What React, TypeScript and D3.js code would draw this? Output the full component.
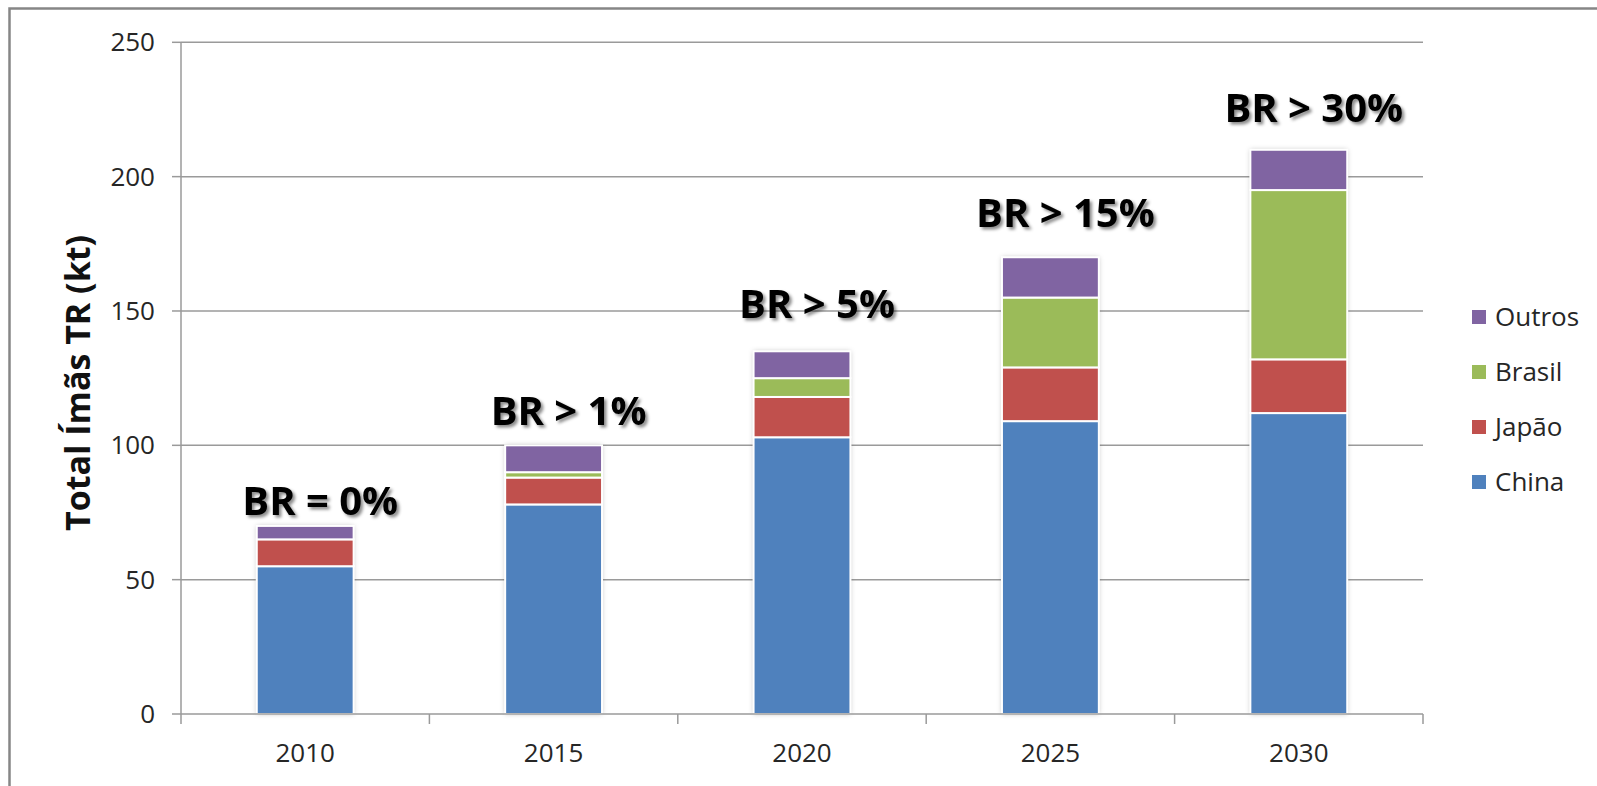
import React, { useEffect, useRef } from "react";
import * as d3 from "d3";

const years = ["2010", "2015", "2020", "2025", "2030"];
const china = [55, 78, 103, 109, 112];
const japao = [10, 10, 15, 20, 20];
const brasil = [0, 2, 7, 26, 63];
const outros = [5, 10, 10, 15, 15];
const seriesNames = ["China", "Japão", "Brasil", "Outros"];
const seriesColors = ["#4F81BD", "#C0504D", "#9BBB59", "#8064A2"];
const yTicks = [0, 50, 100, 150, 200, 250];
const annotations = ["BR = 0%", "BR > 1%", "BR > 5%", "BR > 15%", "BR > 30%"];
// baseline of each annotation, in kt
const annotationLevels = [74, 107.5, 147.3, 181.4, 220.4];

const App = () => {
  const svgRef = useRef<SVGSVGElement>(null);

  useEffect(() => {
    drawChart();
  }, []);

  const drawChart = () => {
    const svg = d3.select(svgRef.current);
    svg.selectAll("*").remove();

    const W = 1597;
    const H = 786;
    const font = "'Open Sans', 'Noto Sans', sans-serif";

    const defs = svg.append("defs");
    defs
      .append("filter")
      .attr("id", "barShadow")
      .attr("x", "-20%")
      .attr("y", "-20%")
      .attr("width", "140%")
      .attr("height", "140%")
      .append("feDropShadow")
      .attr("dx", 0)
      .attr("dy", 0)
      .attr("stdDeviation", 2.5)
      .attr("flood-color", "#000")
      .attr("flood-opacity", 0.25);
    defs
      .append("filter")
      .attr("id", "textShadow")
      .attr("x", "-10%")
      .attr("y", "-30%")
      .attr("width", "120%")
      .attr("height", "160%")
      .append("feDropShadow")
      .attr("dx", 2.5)
      .attr("dy", 2.5)
      .attr("stdDeviation", 1.8)
      .attr("flood-color", "#000")
      .attr("flood-opacity", 0.45);

    svg.append("rect").attr("width", W).attr("height", H).attr("fill", "#fff");

    // outer chart frame
    svg
      .append("rect")
      .attr("x", 9.5)
      .attr("y", 8.5)
      .attr("width", W + 20)
      .attr("height", H + 20)
      .attr("fill", "none")
      .attr("stroke", "#868686")
      .attr("stroke-width", 2.5);

    const x = d3
      .scaleBand()
      .domain(years)
      .range([181, 1423])
      .paddingInner(0.61)
      .paddingOuter(0.305);
    const y = d3.scaleLinear().domain([0, 250]).range([714, 42.3]);

    // gridlines
    svg
      .append("g")
      .selectAll("line")
      .data(yTicks.filter((t) => t > 0))
      .join("line")
      .attr("x1", 181)
      .attr("x2", 1423)
      .attr("y1", (d) => y(d))
      .attr("y2", (d) => y(d))
      .attr("stroke", "#9a9a9a")
      .attr("stroke-width", 1.5);

    // y ticks and labels
    const yAxis = svg.append("g");
    yAxis
      .selectAll("line")
      .data(yTicks)
      .join("line")
      .attr("x1", 172)
      .attr("x2", 181)
      .attr("y1", (d) => y(d))
      .attr("y2", (d) => y(d))
      .attr("stroke", "#9a9a9a")
      .attr("stroke-width", 1.5);
    yAxis
      .selectAll("text")
      .data(yTicks)
      .join("text")
      .attr("x", 155)
      .attr("y", (d) => y(d))
      .attr("dy", "0.35em")
      .attr("text-anchor", "end")
      .attr("font-family", font)
      .attr("font-size", 26)
      .attr("fill", "#262626")
      .text((d) => d);

    // bars
    const rows = years.map((yr, i) => ({
      year: yr,
      China: china[i],
      Japão: japao[i],
      Brasil: brasil[i],
      Outros: outros[i],
    }));
    const stacked = d3.stack<any>().keys(seriesNames)(rows);
    const totals = years.map((_, i) => china[i] + japao[i] + brasil[i] + outros[i]);

    const barsG = svg.append("g");
    // soft shadow behind each whole bar
    barsG
      .selectAll("rect.shadow")
      .data(rows)
      .join("rect")
      .attr("class", "shadow")
      .attr("x", (d) => x(d.year)!)
      .attr("width", x.bandwidth())
      .attr("y", (d, i) => y(totals[i]))
      .attr("height", (d, i) => y(0) - y(totals[i]))
      .attr("fill", "#fff")
      .attr("filter", "url(#barShadow)");

    stacked.forEach((layer, si) => {
      barsG
        .append("g")
        .selectAll("rect")
        .data(layer.filter((d) => d[1] - d[0] > 0))
        .join("rect")
        .attr("x", (d) => x(d.data.year)!)
        .attr("width", x.bandwidth())
        .attr("y", (d) => y(d[1]))
        .attr("height", (d) => y(d[0]) - y(d[1]))
        .attr("fill", seriesColors[si])
        .attr("stroke", "#fff")
        .attr("stroke-width", 2);
    });

    // x axis
    const xAxis = svg.append("g");
    xAxis
      .append("line")
      .attr("x1", 181)
      .attr("x2", 1423)
      .attr("y1", 714)
      .attr("y2", 714)
      .attr("stroke", "#9a9a9a")
      .attr("stroke-width", 1.5);
    const step = x.step();
    xAxis
      .selectAll("line.tick")
      .data(d3.range(years.length + 1))
      .join("line")
      .attr("class", "tick")
      .attr("x1", (d) => 181 + d * step)
      .attr("x2", (d) => 181 + d * step)
      .attr("y1", (d) => (d === 0 ? y(250) : 714))
      .attr("y2", 724)
      .attr("stroke", "#9a9a9a")
      .attr("stroke-width", 1.5);
    xAxis
      .selectAll("text")
      .data(years)
      .join("text")
      .attr("x", (d) => x(d)! + x.bandwidth() / 2)
      .attr("y", 762)
      .attr("text-anchor", "middle")
      .attr("font-family", font)
      .attr("font-size", 26)
      .attr("fill", "#262626")
      .text((d) => d);

    // y axis title
    svg
      .append("text")
      .attr("transform", "translate(90,383) rotate(-90)")
      .attr("text-anchor", "middle")
      .attr("font-family", font)
      .attr("font-size", 34)
      .attr("font-weight", "bold")
      .attr("fill", "#111")
      .text("Total Ímãs TR (kt)");

    // annotations
    svg
      .append("g")
      .selectAll("text")
      .data(annotations)
      .join("text")
      .attr("x", (d, i) => x(years[i])! + x.bandwidth() / 2 + 15)
      .attr("y", (d, i) => y(annotationLevels[i]))
      .attr("text-anchor", "middle")
      .attr("font-family", font)
      .attr("font-size", 40)
      .attr("font-weight", "bold")
      .attr("fill", "#000")
      .attr("filter", "url(#textShadow)")
      .text((d) => d);

    // legend (reverse order, Outros on top)
    const legend = svg.append("g").attr("transform", "translate(1472,317)");
    const legendItems = seriesNames.map((n, i) => ({ name: n, color: seriesColors[i] })).reverse();
    const li = legend
      .selectAll("g")
      .data(legendItems)
      .join("g")
      .attr("transform", (d, i) => `translate(0,${i * 55})`);
    li.append("rect")
      .attr("x", 0)
      .attr("y", -7)
      .attr("width", 14)
      .attr("height", 14)
      .attr("fill", (d) => d.color);
    li.append("text")
      .attr("x", 23)
      .attr("y", 0)
      .attr("dy", "0.35em")
      .attr("font-family", font)
      .attr("font-size", 26)
      .attr("fill", "#262626")
      .text((d) => d.name);
  };

  return (
    <svg
      ref={svgRef}
      width={1597}
      height={786}
      style={{ position: "absolute", left: 0, top: 0, display: "block" }}
    ></svg>
  );
};

export default App;
